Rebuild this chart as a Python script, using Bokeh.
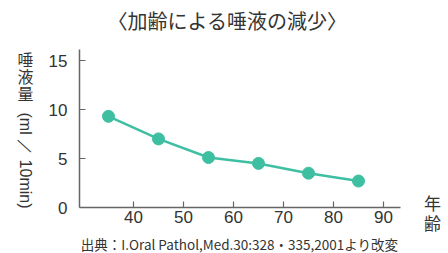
from bokeh.plotting import figure
from bokeh.models import Range1d, FixedTicker, Label
from bokeh.embed import file_html
from bokeh.resources import INLINE
import math

ages = [35, 45, 55, 65, 75, 85]
saliva = [9.3, 7.0, 5.1, 4.5, 3.5, 2.7]
x_ticks = [40, 50, 60, 70, 80, 90]
y_ticks = [0, 5, 10, 15]
title_text = "〈加齢による唾液の減少〉"
ylabel_cjk = ["唾", "液", "量"]
ylabel_rest = "(ml ／ 10min)"
xlabel_chars = ["年", "齢"]
source_text = "出典：I.Oral Pathol,Med.30:328・335,2001より改変"

TEAL = "#3fbfa2"
AX = "#666666"
TXT = "#333333"
JP = "Noto Sans CJK JP"

X0, X1 = 29.2, 93.4
Y0, Y1 = 0, 16.1

def dx(px):
    return X0 + (px - 79) / 5.0

def dy(py):
    return (207 - py) / 9.8

p = figure(width=448, height=253, output_backend="svg", toolbar_location=None,
           x_range=Range1d(dx(0), dx(448)), y_range=Range1d(dy(253), dy(0)),
           min_border=0)
p.outline_line_color = None
p.grid.grid_line_color = None
p.background_fill_color = "white"

p.xaxis.fixed_location = Y0
p.yaxis.fixed_location = X0
p.xaxis.bounds = (X0, X1)
p.yaxis.bounds = (Y0, Y1)

for ax in (p.xaxis[0], p.yaxis[0]):
    ax.axis_line_color = AX
    ax.axis_line_width = 1.5
    ax.major_tick_line_color = AX
    ax.major_tick_line_width = 1.2
    ax.major_tick_in = 6
    ax.major_tick_out = 0
    ax.minor_tick_line_color = None
    ax.major_label_text_font = "Liberation Sans"
    ax.major_label_text_font_size = "17px"
    ax.major_label_text_color = TXT
p.xaxis[0].ticker = FixedTicker(ticks=x_ticks)
p.yaxis[0].ticker = FixedTicker(ticks=y_ticks)
p.xaxis[0].major_label_standoff = 3
p.yaxis[0].major_label_standoff = 12

p.line(ages, saliva, line_color=TEAL, line_width=2.5)
p.scatter(ages, saliva, size=12, fill_color=TEAL, line_color=TEAL)

p.add_layout(Label(x=dx(227), y=dy(20), text=title_text, text_font=JP, text_font_size="20px",
                   text_color=TXT, text_align="center", text_baseline="middle"))
for i, ch in enumerate(ylabel_cjk):
    p.add_layout(Label(x=dx(25), y=dy(58 + 17 * i), text=ch, text_font=JP, text_font_size="16px",
                       text_color=TXT, text_align="center", text_baseline="middle"))
p.add_layout(Label(x=dx(25), y=dy(160), text=ylabel_rest, text_font="Liberation Sans",
                   text_font_size="16px", text_color=TXT, text_align="center",
                   text_baseline="middle", angle=-math.pi / 2))
for i, ch in enumerate(xlabel_chars):
    p.add_layout(Label(x=dx(432), y=dy(202 + 20 * i), text=ch, text_font=JP, text_font_size="17px",
                       text_color=TXT, text_align="center", text_baseline="middle"))
p.add_layout(Label(x=dx(239), y=dy(243), text=source_text, text_font=JP, text_font_size="13.5px",
                   text_color=TXT, text_align="center", text_baseline="middle"))

open("out.html", "w").write(file_html(p, INLINE))
